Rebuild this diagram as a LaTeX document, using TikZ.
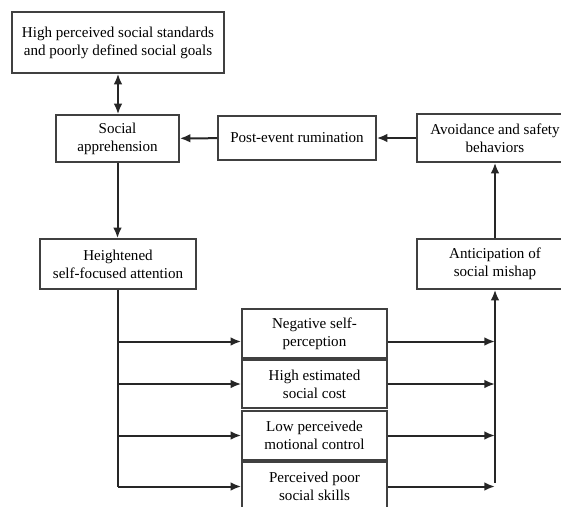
\documentclass[tikz,border=0pt]{standalone}
\usepackage{fontspec}
\setmainfont{Liberation Serif}
\usetikzlibrary{arrows.meta,positioning}
\newlength\px
\setlength\px{0.75pt}

\begin{document}
\begin{tikzpicture}[x=0.75pt, y=-0.75pt, >={Latex[length=8pt,width=6.5pt]}, font=\fontsize{11.3}{13.5}\selectfont, box/.style={draw=black!75, line width=1.1pt, fill=white, align=center, inner sep=0pt, minimum height=48\px}, link/.style={draw=black!85, line width=1.5pt}]
\useasboundingbox (0,0) rectangle (561,507);
\node[box, minimum width=212\px, minimum height=61\px] (standards) at (118,42.5) {High perceived social standards\\and poorly defined social goals};
\node[box, minimum width=123\px, minimum height=47\px] (apprehension) at (117.5,138.5) {Social\\apprehension};
\node[box, minimum width=158\px, minimum height=44\px] (rumination) at (297,138) {Post-event rumination};
\node[box, minimum width=156\px] (avoidance) at (495,138) {Avoidance and safety\\behaviors};
\node[box, minimum width=156\px, minimum height=50\px] (attention) at (118,264) {Heightened\\self-focused attention};
\node[box, minimum width=156\px, minimum height=50\px] (mishap) at (495,264) {Anticipation of\\social mishap};
\node[box, minimum width=145\px, minimum height=49\px] (selfperc) at (314.5,333.5) {Negative self-\\perception};
\node[box, minimum width=145\px, minimum height=48\px] (cost) at (314.5,384) {High estimated\\social cost};
\node[box, minimum width=145\px, minimum height=49\px] (emotion) at (314.5,435.5) {Low perceivede\\motional control};
\node[box, minimum width=145\px, minimum height=49\px] (skills) at (314.5,486.5) {Perceived poor\\social skills};
\draw[link, <->] (standards.south) -- (standards.south |- apprehension.north);
\draw[link, ->] (rumination) -- (apprehension);
\draw[link, ->] (avoidance) -- (rumination);
\draw[link, ->] (apprehension.south) -- (apprehension.south |- attention.north);
\draw[link, ->] (mishap) -- (avoidance);
% from attention to the four appraisals
\coordinate (in1) at ([yshift=-6pt]selfperc.west);
\draw[link] (attention.south) -- (attention.south |- skills.west);
\draw[link, ->] (attention.south |- in1) -- (in1);
\draw[link, ->] (attention.south |- cost.west) -- (cost.west);
\draw[link, ->] (attention.south |- emotion.west) -- (emotion.west);
\draw[link, ->] (attention.south |- skills.west) -- (skills.west);
% from the appraisals to anticipation
\coordinate (out1) at ([yshift=-6pt]selfperc.east);
\draw[link, ->] (out1) -- (out1 -| mishap.south);
\draw[link, ->] (cost.east) -- (cost.east -| mishap.south);
\draw[link, ->] (emotion.east) -- (emotion.east -| mishap.south);
\draw[link, ->] (skills.east) -- (skills.east -| mishap.south);
\draw[link, ->] ([yshift=3pt]mishap.south |- skills.east) -- (mishap.south);
\end{tikzpicture}
\end{document}
